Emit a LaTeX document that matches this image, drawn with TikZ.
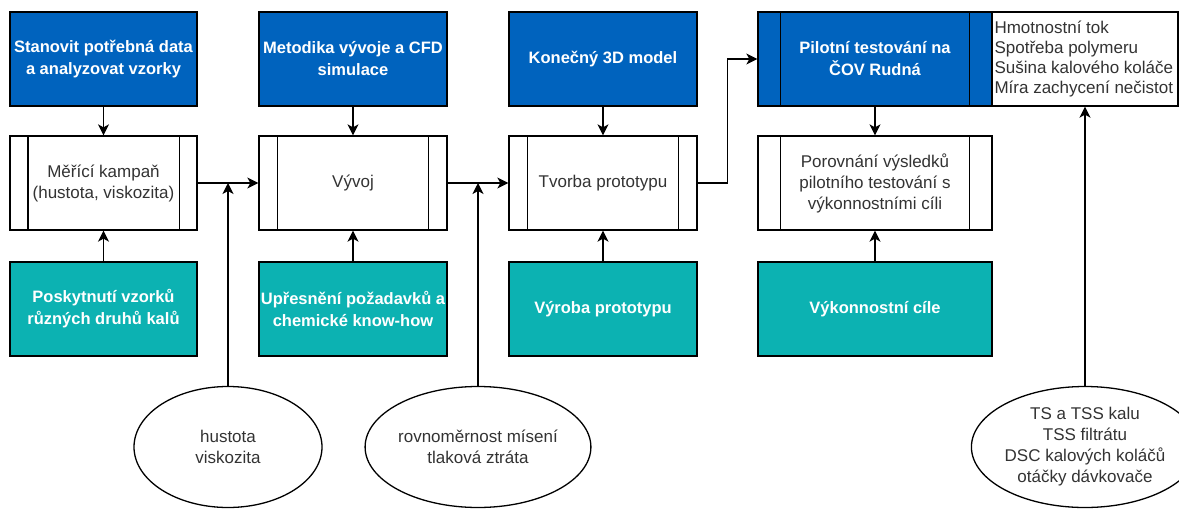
\documentclass[tikz,border=0pt]{standalone}
\usepackage{fontspec}
\setmainfont{Liberation Sans}
\usetikzlibrary{arrows.meta,shapes.geometric}
\definecolor{dblue}{RGB}{0,99,190}
\definecolor{dteal}{RGB}{12,178,178}
\definecolor{txtgray}{RGB}{51,51,51}
\tikzset{
  base/.style={draw=black, line width=1.3pt, minimum height=94pt, inner sep=0pt, align=center},
  bluebox/.style={base, fill=dblue, text=white, font=\fontsize{16.5}{22}\selectfont\bfseries},
  tealbox/.style={base, fill=dteal, text=white, font=\fontsize{16.5}{22}\selectfont\bfseries},
  procbox/.style={base, fill=white, text=txtgray, font=\fontsize{17}{21}\selectfont},
  infobox/.style={draw=black, line width=1.3pt, fill=white, minimum height=94pt, minimum width=186pt, inner sep=0pt},
  infotext/.style={inner sep=0pt, align=left, text=txtgray, font=\fontsize{17}{20}\selectfont},
  oval/.style={ellipse, draw=black, line width=1.3pt, fill=white, minimum width=188pt, minimum height=121pt, inner sep=0pt, align=center, text=txtgray, font=\fontsize{17}{21}\selectfont},
  barline/.style={draw=black, line width=1.3pt},
  conn/.style={draw=black, line width=1.3pt, -{Stealth[length=11pt,width=11pt,inset=3pt]}},
}
\newcommand\mybars[2]{%
  \draw[barline] ([xshift=#2pt]#1.north west) -- ([xshift=#2pt]#1.south west);
  \draw[barline] ([xshift=-#2pt]#1.north east) -- ([xshift=-#2pt]#1.south east);}
\begin{document}
\begin{tikzpicture}[x=1pt,y=-1pt]
\useasboundingbox[fill=white] (0,0) rectangle (1179,509);
% top row
\node[bluebox, minimum width=187pt] (b1) at (103.5,59) {Stanovit potřebná data\\a analyzovat vzorky};
\node[bluebox, minimum width=188pt] (b2) at (353,59) {Metodika vývoje a CFD\\simulace};
\node[bluebox, minimum width=188pt] (b3) at (603,59) {Konečný 3D model};
\node[bluebox, minimum width=234pt] (b4) at (875,59) {Pilotní testování na\\ČOV Rudná};
\mybars{b4}{23}
\node[infobox] (tb) at (1085,59) {};
\node[infotext, anchor=west] (tbt) at ([xshift=3pt]tb.west) {Hmotnostní tok\\Spotřeba polymeru\\Sušina kalového koláče\\Míra zachycení nečistot};
% middle row
\node[procbox, minimum width=187pt] (p1) at (103.5,183) {Měřící kampaň\\(hustota, viskozita)};
\node[procbox, minimum width=188pt] (p2) at (353,183) {Vývoj};
\node[procbox, minimum width=188pt] (p3) at (603,183) {Tvorba prototypu};
\node[procbox, minimum width=234pt] (p4) at (875,183) {Porovnání výsledků\\pilotního testování s\\výkonnostními cíli};
\mybars{p1}{18.5}
\mybars{p2}{19}
\mybars{p3}{19}
\mybars{p4}{23}
% bottom row
\node[tealbox, minimum width=187pt] (t1) at (103.5,309) {Poskytnutí vzorků\\různých druhů kalů};
\node[tealbox, minimum width=188pt] (t2) at (353,309) {Upřesnění požadavků a\\chemické know-how};
\node[tealbox, minimum width=188pt] (t3) at (603,309) {Výroba prototypu};
\node[tealbox, minimum width=234pt] (t4) at (875,309) {Výkonnostní cíle};
% ellipses
\node[oval] (e1) at (228,447) {hustota\\viskozita};
\node[oval] (e2) at (478,447) {rovnoměrnost mísení\\tlaková ztráta};
\node[oval] (e3) at (1085,447) {TS a TSS kalu\\TSS filtrátu\\DSC kalových koláčů\\otáčky dávkovače};
% connectors
\draw[conn] (b1) -- (p1);
\draw[conn] (b2) -- (p2);
\draw[conn] (b3) -- (p3);
\draw[conn] (b4) -- (p4);
\draw[conn] (t1) -- (p1);
\draw[conn] (t2) -- (p2);
\draw[conn] (t3) -- (p3);
\draw[conn] (t4) -- (p4);
\draw[conn] (p1) -- (p2);
\draw[conn] (p2) -- (p3);
\coordinate (j1) at (e1.north |- p1.east);
\coordinate (j2) at (e2.north |- p2.east);
\draw[conn] (e1.north) -- (j1);
\draw[conn] (e2.north) -- (j2);
\coordinate (k3) at ([xshift=30pt]p3.east);
\draw[conn] (p3.east) -- (k3) |- (b4.west);
\draw[conn] (e3.north) -- (e3.north |- tb.south);
\end{tikzpicture}
\end{document}
